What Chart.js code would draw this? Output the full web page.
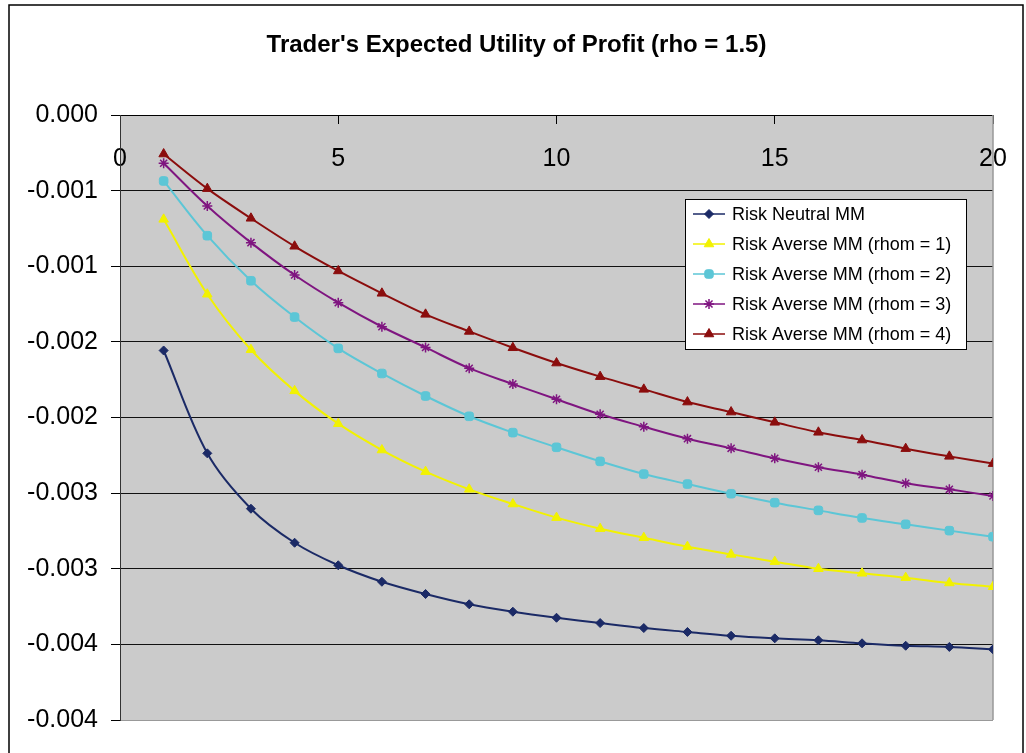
<!DOCTYPE html>
<html>
<head>
<meta charset="utf-8">
<title>Trader's Expected Utility of Profit</title>
<script src="https://cdn.jsdelivr.net/npm/chart.js@4.4.1/dist/chart.umd.min.js"></script>
<style>
  html, body { margin: 0; padding: 0; background: #fff; }
  #wrap { width: 1026px; height: 753px; position: relative; }
</style>
</head>
<body>
<div id="wrap"><canvas id="myChart"></canvas></div>
<script>
// values
const xValues = [1, 2, 3, 4, 5, 6, 7, 8, 9, 10, 11, 12, 13, 14, 15, 16, 17, 18, 19, 20];

const riskNeutral = [-0.001557, -0.002237, -0.002603, -0.002828, -0.002977, -0.003086, -0.003167, -0.003235, -0.003284, -0.003324,
                     -0.003359, -0.003392, -0.003418, -0.003443, -0.003460, -0.003473, -0.003493, -0.003509, -0.003517, -0.003533];
const rhom1 = [-0.000690, -0.001185, -0.001552, -0.001824, -0.002041, -0.002215, -0.002358, -0.002475, -0.002572, -0.002662,
               -0.002735, -0.002795, -0.002854, -0.002905, -0.002953, -0.003000, -0.003030, -0.003059, -0.003094, -0.003119];
const rhom2 = [-0.000436, -0.000798, -0.001096, -0.001336, -0.001543, -0.001709, -0.001858, -0.001992, -0.002100, -0.002197,
               -0.002290, -0.002374, -0.002440, -0.002504, -0.002563, -0.002614, -0.002664, -0.002706, -0.002748, -0.002788];
const rhom3 = [-0.000319, -0.000602, -0.000844, -0.001058, -0.001241, -0.001400, -0.001537, -0.001674, -0.001779, -0.001879,
               -0.001979, -0.002061, -0.002140, -0.002204, -0.002270, -0.002329, -0.002378, -0.002435, -0.002475, -0.002519];
const rhom4 = [-0.000258, -0.000487, -0.000683, -0.000868, -0.001031, -0.001179, -0.001318, -0.001431, -0.001539, -0.001640,
               -0.001730, -0.001814, -0.001898, -0.001964, -0.002032, -0.002098, -0.002149, -0.002206, -0.002257, -0.002305];

const seriesNames = ['Risk Neutral MM', 'Risk Averse MM (rhom = 1)', 'Risk Averse MM (rhom = 2)',
                     'Risk Averse MM (rhom = 3)', 'Risk Averse MM (rhom = 4)'];

// excel shows 3 decimals, so the half steps round (bottom to top)
const yTickLabels = ['-0.004', '-0.004', '-0.003', '-0.003', '-0.002', '-0.002', '-0.001', '-0.001', '0.000'];

const FONT = "'Liberation Sans', Arial, sans-serif";

function pts(vals) {
    return xValues.map((x, i) => ({ x: x, y: vals[i] }));
}

function series(label, vals, color, style, radius) {
    return {
        label: label,
        data: pts(vals),
        yAxisID: 'y',
        borderColor: color,
        backgroundColor: color,
        borderWidth: 2,
        tension: 0.35,
        pointStyle: style,
        pointRadius: radius,
        pointBackgroundColor: color,
        pointBorderColor: color,
        pointBorderWidth: style === 'star' ? 1.5 : 1
    };
}

// gray plot area + outer frame
const backdrop = {
    id: 'backdrop',
    beforeDraw(chart) {
        const { ctx, chartArea: a } = chart;
        ctx.save();
        ctx.fillStyle = '#fff';
        ctx.fillRect(0, 0, chart.width, chart.height);
        ctx.strokeStyle = '#000';
        ctx.lineWidth = 1.5;
        ctx.strokeRect(9, 5, 1014, 760);
        ctx.fillStyle = '#cbcbcb';
        ctx.fillRect(a.left, a.top, a.right - a.left, a.bottom - a.top);
        ctx.restore();
    },
    beforeDatasetsDraw(chart) {
        const { ctx, chartArea: a } = chart;
        ctx.save();
        ctx.strokeStyle = '#999';
        ctx.lineWidth = 1.5;
        ctx.beginPath();
        ctx.moveTo(a.right, a.top);
        ctx.lineTo(a.right, a.bottom);
        ctx.stroke();
        ctx.restore();
    }
};

// excel style legend box inside the plot
const boxLegend = {
    id: 'boxLegend',
    afterDraw(chart) {
        const ctx = chart.ctx;
        const left = 685, top = 199, w = 281, h = 150, rowH = 30;
        ctx.save();
        ctx.fillStyle = '#fff';
        ctx.fillRect(left, top, w, h);
        ctx.strokeStyle = '#000';
        ctx.lineWidth = 1;
        ctx.strokeRect(left + 0.5, top + 0.5, w, h);
        ctx.font = '18px ' + FONT;
        ctx.textBaseline = 'middle';
        chart.data.datasets.forEach((ds, i) => {
            const y = top + 15 + i * rowH;
            ctx.strokeStyle = ds.borderColor;
            ctx.lineWidth = 1.5;
            ctx.beginPath();
            ctx.moveTo(left + 8, y);
            ctx.lineTo(left + 40, y);
            ctx.stroke();
            ctx.fillStyle = ds.borderColor;
            ctx.lineWidth = ds.pointBorderWidth;
            if (Chart.helpers && Chart.helpers.drawPoint) {
                Chart.helpers.drawPoint(ctx, { pointStyle: ds.pointStyle, radius: ds.pointRadius, rotation: 0, borderWidth: ds.pointBorderWidth }, left + 24, y);
            }
            ctx.fillStyle = '#000';
            ctx.fillText(ds.label, left + 47, y + 1);
        });
        ctx.restore();
    }
};

const ctx = document.getElementById('myChart');

const myChart = new Chart(ctx, {
    type: 'line',
    data: {
        datasets: [
            series(seriesNames[0], riskNeutral, '#1b2a66', 'rectRot', 4.5),
            series(seriesNames[1], rhom1, '#f2f200', 'triangle', 5.5),
            series(seriesNames[2], rhom2, '#5cc6d6', 'rectRounded', 5),
            series(seriesNames[3], rhom3, '#7f1580', 'star', 5),
            series(seriesNames[4], rhom4, '#8b0d0d', 'triangle', 5.5)
        ]
    },
    options: {
        responsive: true,
        maintainAspectRatio: false,
        animation: false,
        layout: { padding: { left: 7, right: 0, top: 0, bottom: 33 } },
        plugins: {
            legend: { display: false },
            tooltip: { enabled: false },
            title: {
                display: true,
                text: "Trader's Expected Utility of Profit (rho = 1.5)",
                color: '#000',
                font: { family: FONT, size: 24, weight: 'bold', lineHeight: 1 },
                padding: { top: 33, bottom: 0 }
            }
        },
        scales: {
            x: {
                type: 'linear',
                position: 'top',
                min: 0,
                max: 20,
                afterFit: s => { s.height = 58; s.paddingLeft = 0; s.paddingRight = 0; },
                ticks: {
                    stepSize: 5,
                    mirror: true,
                    padding: 29,
                    color: '#000',
                    font: { family: FONT, size: 25 }
                },
                grid: {
                    drawOnChartArea: false,
                    drawTicks: true,
                    tickLength: -9,
                    color: '#000'
                },
                border: { display: true, color: '#000', width: 1 }
            },
            y: {
                min: -0.004,
                max: 0,
                afterFit: s => { s.width = 113; },
                ticks: {
                    stepSize: 0.0005,
                    padding: 13,
                    color: '#000',
                    font: { family: FONT, size: 25 },
                    callback: (v, i) => yTickLabels[i]
                },
                grid: {
                    color: c => (c.tick && c.tick.value <= -0.004 ? '#999' : '#111'),
                    tickColor: '#000',
                    tickLength: 9,
                    lineWidth: 1
                },
                border: { display: true, color: '#333', width: 1 }
            },
            // empty strip on the right so the title centres on the frame
            yRight: {
                position: 'right',
                min: -1,
                max: 0,
                afterFit: s => { s.width = 33; },
                ticks: { display: false },
                grid: { display: false },
                border: { display: false }
            }
        }
    },
    plugins: [backdrop, boxLegend]
});
</script>
</body>
</html>
